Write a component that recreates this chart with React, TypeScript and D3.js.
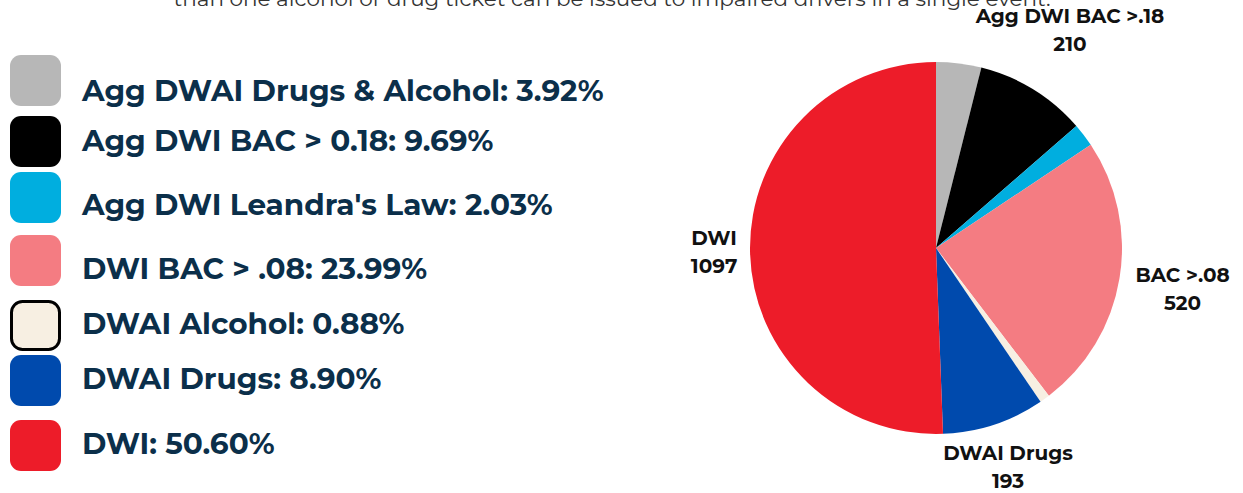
import { useEffect, useRef } from "react";
import * as d3 from "d3";

const categories = [
  "Agg DWAI Drugs & Alcohol",
  "Agg DWI BAC > 0.18",
  "Agg DWI Leandra's Law",
  "DWI BAC > .08",
  "DWAI Alcohol",
  "DWAI Drugs",
  "DWI",
];
const counts = [85, 210, 44, 520, 19, 193, 1097];
const percents = ["3.92%", "9.69%", "2.03%", "23.99%", "0.88%", "8.90%", "50.60%"];
const pieLabels = ["", "Agg DWI BAC >.18", "", "BAC >.08", "", "DWAI Drugs", "DWI"];
const colors = ["#b7b7b7", "#000000", "#00aedf", "#f47c82", "#f7efe2", "#004aad", "#ed1c29"];
const note = "than one alcohol or drug ticket can be issued to impaired drivers in a single event.";

const W = 1243;
const H = 493;

export default function App() {
  const ref = useRef<SVGSVGElement | null>(null);

  useEffect(() => {
    const svg = d3.select(ref.current);
    svg.selectAll("*").remove();
    svg.attr("viewBox", `0 0 ${W} ${H}`);

    const font = "Montserrat, 'Open Sans', 'DejaVu Sans', sans-serif";

    // cut-off note at the top
    svg
      .append("text")
      .attr("x", 612)
      .attr("y", 6)
      .attr("text-anchor", "middle")
      .attr("font-family", font)
      .attr("font-size", 21)
      .attr("font-weight", 400)
      .attr("fill", "#333")
      .attr("textLength", 877)
      .attr("lengthAdjust", "spacingAndGlyphs")
      .text(note);

    // legend
    const rowY = [80, 141, 197, 260, 325, 380, 445];
    const legend = svg.append("g").attr("transform", "translate(10,0)");
    categories.forEach((c, i) => {
      const isCream = i === 4;
      legend
        .append("rect")
        .attr("x", isCream ? 1.5 : 0)
        .attr("y", rowY[i] - 25 + (isCream ? 1.5 : 0))
        .attr("width", isCream ? 48 : 51)
        .attr("height", isCream ? 48 : 51)
        .attr("rx", 11)
        .attr("fill", colors[i])
        .attr("stroke", isCream ? "#000" : "none")
        .attr("stroke-width", isCream ? 3 : 0);
    });
    const textBase = [101, 151, 215, 279, 334, 389, 454];
    categories.forEach((c, i) => {
      svg
        .append("text")
        .attr("x", 82)
        .attr("y", textBase[i])
        .attr("font-family", font)
        .attr("font-weight", 700)
        .attr("font-size", 29.5)
        .attr("fill", "#0b2f4a")
        .text(`${c}: ${percents[i]}`);
    });

    // pie
    const cx = 936;
    const cy = 248;
    const r = 186;
    const g = svg.append("g").attr("transform", `translate(${cx},${cy})`);
    const pie = d3
      .pie<number>()
      .sort(null)
      .value((d) => d);
    const arcs = pie(counts);
    const arc = d3.arc<d3.PieArcDatum<number>>().innerRadius(0).outerRadius(r);
    g.selectAll("path")
      .data(arcs)
      .join("path")
      .attr("d", arc)
      .attr("fill", (_, i) => colors[i]);

    const labelR = [0, 256, 0, 250, 0, 231, 222];
    arcs.forEach((a, i) => {
      if (!pieLabels[i]) return;
      const mid = (a.startAngle + a.endAngle) / 2;
      const lx = Math.sin(mid) * labelR[i];
      const ly = -Math.cos(mid) * labelR[i];
      const t = g
        .append("text")
        .attr("text-anchor", "middle")
        .attr("font-family", font)
        .attr("font-weight", 700)
        .attr("font-size", 20)
        .attr("fill", "#111");
      t.append("tspan").attr("x", lx).attr("y", ly - 7).text(pieLabels[i]);
      t.append("tspan").attr("x", lx).attr("y", ly + 21).text(String(counts[i]));
    });
  }, []);

  return (
    <div style={{ position: "absolute", left: 0, top: 0, background: "#fff" }}>
      <svg ref={ref} width={W} height={H} style={{ display: "block" }} />
    </div>
  );
}
